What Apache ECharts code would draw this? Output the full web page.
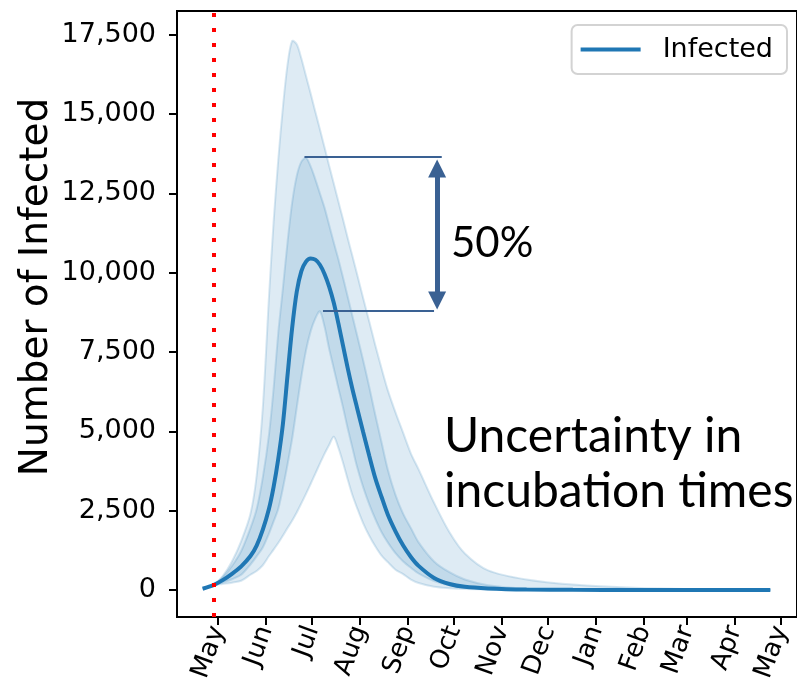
<!DOCTYPE html>
<html>
<head>
<meta charset="utf-8">
<script src="https://cdn.jsdelivr.net/npm/echarts@6/dist/echarts.min.js"></script>
<style>
  html, body { margin: 0; padding: 0; background: #fff; }
  #chart { width: 797px; height: 698px; }
</style>
</head>
<body>
<div id="chart"></div>
<script>
// ---------------- data ----------------
const dates = ['2020-04-21','2020-04-28','2020-05-04','2020-05-10','2020-05-16','2020-05-22','2020-05-26','2020-05-30',
  '2020-06-03','2020-06-06','2020-06-09','2020-06-12','2020-06-15','2020-06-18','2020-06-21','2020-06-24','2020-06-27',
  '2020-06-30','2020-07-03','2020-07-06','2020-07-09','2020-07-12','2020-07-15','2020-07-18','2020-07-21','2020-07-24',
  '2020-07-27','2020-07-30','2020-08-03','2020-08-07','2020-08-11','2020-08-15','2020-08-19','2020-08-24','2020-08-29',
  '2020-09-03','2020-09-08','2020-09-18','2020-09-28','2020-10-08','2020-10-23','2020-11-17','2020-12-17','2021-01-26',
  '2021-03-17','2021-04-24'];
const infected = [40,155,310,510,745,1070,1400,1900,2560,3250,4130,5220,6750,8250,9400,10050,10350,10450,10410,10250,
  9960,9560,9050,8400,7700,7000,6350,5760,4990,4230,3510,2930,2380,1850,1400,1040,760,380,190,100,50,15,4,1,0,0];
const outerUpper = [40,160,440,900,1540,2400,3600,5750,9240,11600,13550,15200,16550,17300,17200,16750,16200,15650,15080,
  14520,13950,13370,12810,12240,11680,11100,10540,9970,9210,8460,7700,6980,6300,5600,4950,4300,3800,2750,1820,1150,
  620,330,170,70,20,5];
const outerLower = [40,150,190,230,290,480,600,780,1070,1270,1480,1710,1950,2180,2440,2730,3030,3340,3660,3980,4290,
  4570,4830,4480,4010,3490,3000,2600,2110,1710,1370,1080,880,640,500,330,220,100,55,30,12,3,0,0,0,0];
const innerUpper = [40,155,400,760,1230,1950,2550,3550,4900,6350,8100,9500,10950,12200,13050,13500,13620,13350,12950,
  12500,12050,11500,10950,10420,9850,9250,8650,8050,7250,6400,5500,4650,3800,3000,2400,1950,1500,900,560,330,150,40,8,1,0,0];
const innerLower = [40,150,240,340,480,800,1060,1340,1780,2160,2550,3200,3950,4760,5750,6720,7550,8150,8550,8780,8300,
  7600,6980,6360,5750,5100,4500,3900,3250,2700,2230,1820,1500,1160,900,700,520,280,150,80,30,5,0,0,0,0];

const tickDates = ['2020-05-01','2020-06-01','2020-07-01','2020-08-01','2020-09-01','2020-10-01','2020-11-01',
  '2020-12-01','2021-01-01','2021-02-01','2021-03-01','2021-04-01','2021-05-01'];
const monthNames = ['Jan','Feb','Mar','Apr','May','Jun','Jul','Aug','Sep','Oct','Nov','Dec'];
const yTicks = [0,2500,5000,7500,10000,12500,15000,17500];

const startDate = '2020-04-28';          // red dotted line
const peakHighLine = ['2020-06-26','2020-09-23', 13650];
const peakLowLine  = ['2020-07-08','2020-09-18', 8800];
const arrowDate = '2020-09-20';
const arrowRange = [13280, 9125];

// ---------------- build ----------------
const ts = d => Date.parse(d);
const xs = dates.map(ts);
const pairs = arr => xs.map((x, i) => [x, arr[i]]);
const SMOOTH = 0.3;
const edgeColor = 'rgba(31,119,180,0.17)';
const fillColor = 'rgba(31,119,180,0.15)';

function bandSeries(name, upper, lower, z) {
  return {
    type: 'custom', name: name, z: z, silent: true,
    data: [0],
    renderItem: function (params, api) {
      const top = xs.map((x, i) => api.coord([x, upper[i]]));
      const bot = xs.map((x, i) => api.coord([x, lower[i]]));
      const ring = top.concat(bot.slice().reverse());
      return {
        type: 'group',
        children: [
          { type: 'polygon', shape: { points: ring, smooth: SMOOTH },
            style: { fill: fillColor, stroke: null } },
          { type: 'polyline', shape: { points: top, smooth: SMOOTH },
            style: { fill: null, stroke: edgeColor, lineWidth: 2 } },
          { type: 'polyline', shape: { points: bot, smooth: SMOOTH },
            style: { fill: null, stroke: edgeColor, lineWidth: 2 } }
        ]
      };
    }
  };
}

const chart = echarts.init(document.getElementById('chart'), null, { renderer: 'canvas' });
const annotColor = '#3a6193';

chart.setOption({
  animation: false,
  backgroundColor: '#fff',
  grid: { left: 177, right: -3, top: 11, bottom: 81, show: true, borderColor: '#000', borderWidth: 2 },
  legend: {
    data: ['Infected'], right: 10, top: 25,
    padding: [11, 14, 11, 9],
    borderColor: '#d3d3d3', borderWidth: 2, borderRadius: 6, backgroundColor: 'rgba(255,255,255,0.85)',
    icon: 'rect', itemWidth: 60, itemHeight: 4,
    textStyle: { fontFamily: 'DejaVu Sans', fontSize: 27, color: '#000', padding: [0, 0, 0, 17] }
  },
  xAxis: {
    type: 'value',
    min: Date.UTC(2020, 3, 4, 9), max: Date.UTC(2021, 4, 11, 7),
    axisLine: { show: true, onZero: false, lineStyle: { color: '#000', width: 2 } },
    axisTick: { show: true, length: 8, lineStyle: { color: '#000', width: 2 }, customValues: tickDates.map(ts) },
    axisLabel: {
      customValues: tickDates.map(ts), rotate: 70, margin: 10,
      fontFamily: 'DejaVu Sans', fontSize: 26, color: '#000',
      formatter: v => monthNames[new Date(v).getUTCMonth()]
    },
    splitLine: { show: false }
  },
  yAxis: {
    type: 'value', min: -851, max: 18246,
    axisLine: { show: true, onZero: false, lineStyle: { color: '#000', width: 2 } },
    axisTick: { show: true, length: 8, lineStyle: { color: '#000', width: 2 }, customValues: yTicks },
    axisLabel: {
      customValues: yTicks, margin: 21,
      fontFamily: 'DejaVu Sans', fontSize: 27, color: '#000',
      formatter: v => v.toLocaleString('en-US')
    },
    splitLine: { show: false }
  },
  graphic: [
    { type: 'text', x: 37, y: 287, rotation: Math.PI / 2,
      style: { text: 'Number of Infected', font: '39px "DejaVu Sans"', fill: '#000', align: 'center', verticalAlign: 'middle' } },
    { type: 'text', x: 451, y: 243,
      style: { text: '50%', font: '42px Lato', fill: '#000', align: 'left', verticalAlign: 'middle' } },
    { type: 'text', x: 444, y: 437,
      style: { text: 'Uncertainty in', font: '48px Lato', fill: '#000', align: 'left', verticalAlign: 'middle' } },
    { type: 'text', x: 444, y: 492,
      style: { text: 'incubation times', font: '48px Lato', fill: '#000', align: 'left', verticalAlign: 'middle' } }
  ],
  series: [
    bandSeries('outer', outerUpper, outerLower, 1),
    bandSeries('inner', innerUpper, innerLower, 2),
    {
      name: 'Infected', type: 'line', z: 5,
      data: pairs(infected), smooth: SMOOTH, showSymbol: false,
      lineStyle: { color: '#1f77b4', width: 4 }, itemStyle: { color: '#1f77b4' },
      markLine: {
        silent: true, symbol: 'none', label: { show: false }, z: 10,
        data: [
          { xAxis: ts(startDate), lineStyle: { color: '#ff0000', width: 4, type: [4, 11] } },
          [ { coord: [ts(peakHighLine[0]), peakHighLine[2]], lineStyle: { color: annotColor, width: 2, type: 'solid' } },
            { coord: [ts(peakHighLine[1]), peakHighLine[2]] } ],
          [ { coord: [ts(peakLowLine[0]), peakLowLine[2]], lineStyle: { color: annotColor, width: 2, type: 'solid' } },
            { coord: [ts(peakLowLine[1]), peakLowLine[2]] } ],
          [ { coord: [ts(arrowDate), arrowRange[0]], symbol: 'triangle', symbolSize: 18,
              lineStyle: { color: annotColor, width: 5, type: 'solid' }, itemStyle: { color: annotColor } },
            { coord: [ts(arrowDate), arrowRange[1]], symbol: 'triangle', symbolSize: 18, itemStyle: { color: annotColor } } ]
        ]
      }
    }
  ]
});
</script>
</body>
</html>
